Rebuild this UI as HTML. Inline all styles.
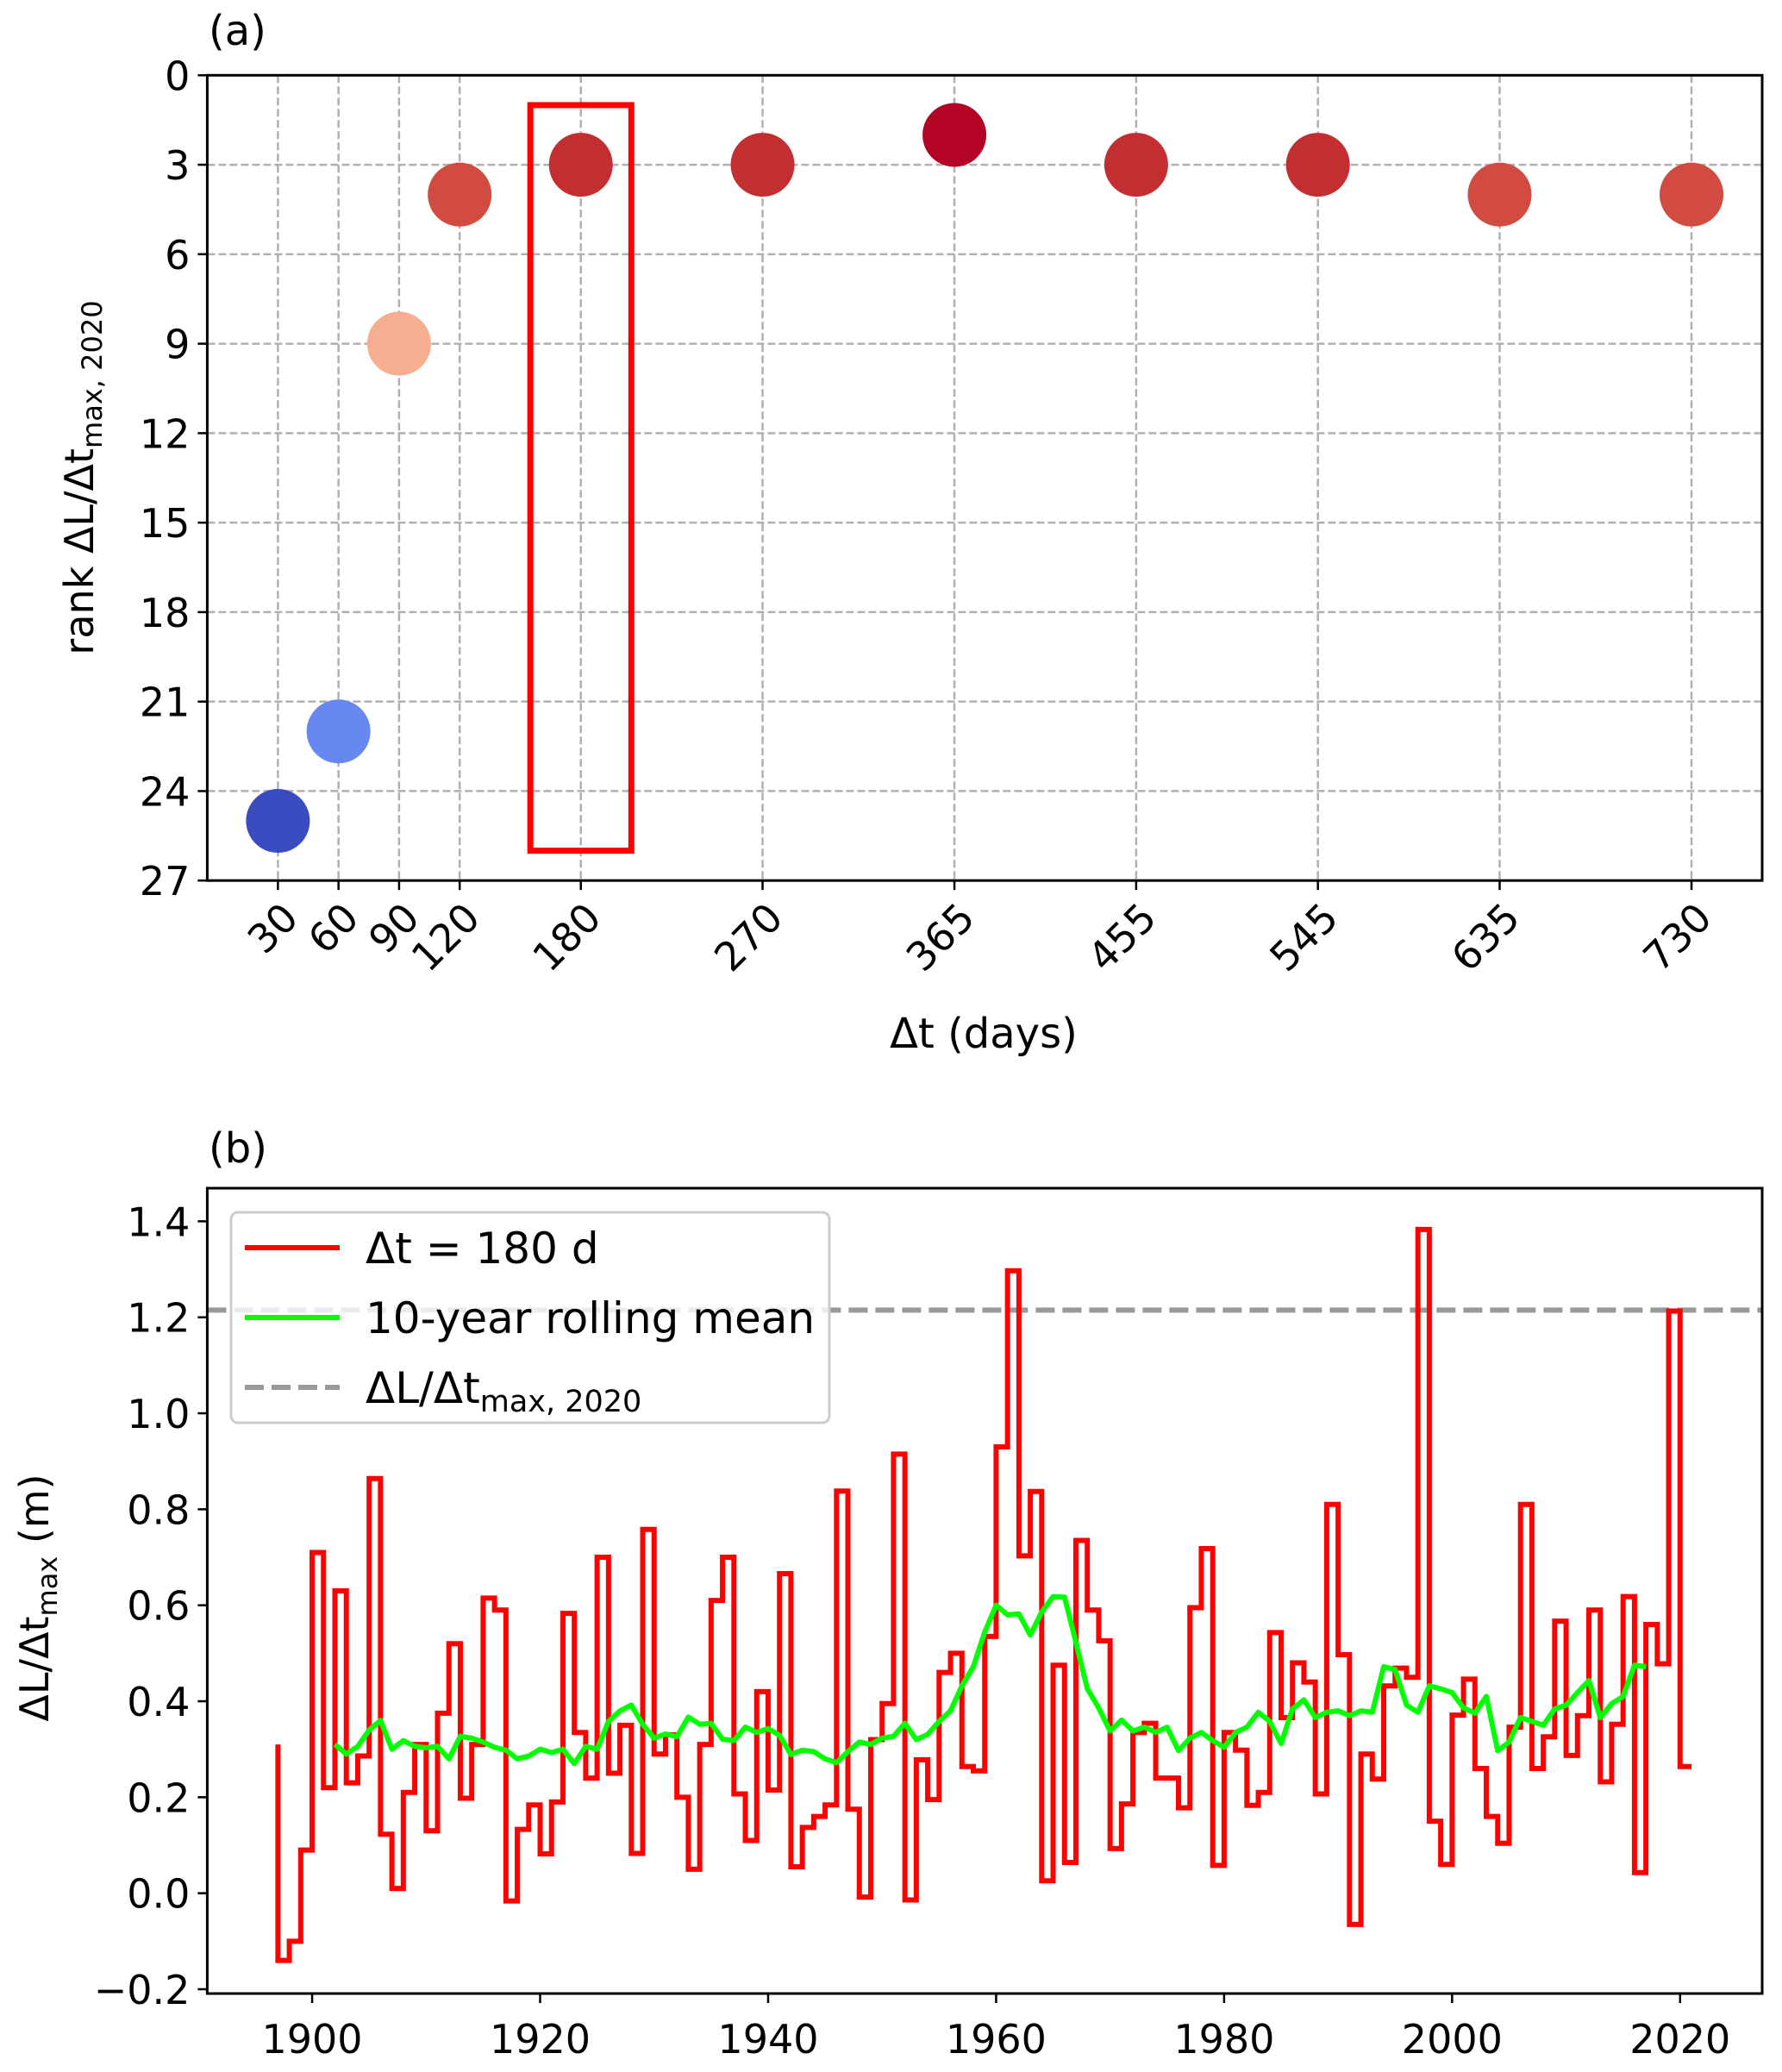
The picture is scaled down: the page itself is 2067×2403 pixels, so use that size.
<!DOCTYPE html>
<html><head><meta charset="utf-8"><style>
body{margin:0;background:#fff}
svg{display:block;font-family:"DejaVu Sans","Liberation Sans",sans-serif}
</style></head><body>
<svg id="fig" width="2067" height="2403" viewBox="0 0 2067 2403" xmlns="http://www.w3.org/2000/svg">
<rect width="2067" height="2403" fill="#fff"/>
<g id="pa"></g>
<g id="pb"></g>
</svg>
<script>
// Panel (a) data
const aDays=[30,60,90,120,180,270,365,455,545,635,730];
const aRanks=[25,22,9,4,3,3,2,3,3,4,4];
const aYTicks=[0,3,6,9,12,15,18,21,24,27];
const aXTicks=["30","60","90","120","180","270","365","455","545","635","730"];
const aBox=[155,205,1,26];
// Panel (b) data
const bYearStart=1897;
const bValues=[0.31,-0.14,-0.10,0.09,0.71,0.22,0.63,0.23,0.286,0.864,0.123,0.01,0.21,0.31,0.13,0.375,0.52,0.198,0.31,0.615,0.59,-0.016,0.133,0.184,0.082,0.19,0.583,0.335,0.24,0.70,0.25,0.35,0.083,0.758,0.29,0.33,0.20,0.05,0.31,0.61,0.70,0.207,0.11,0.42,0.215,0.666,0.055,0.137,0.16,0.184,0.838,0.175,-0.008,0.32,0.395,0.915,-0.014,0.278,0.195,0.46,0.50,0.264,0.255,0.535,0.93,1.297,0.703,0.837,0.026,0.475,0.064,0.735,0.59,0.526,0.093,0.186,0.335,0.354,0.24,0.24,0.178,0.595,0.718,0.058,0.335,0.298,0.183,0.21,0.543,0.366,0.48,0.44,0.207,0.81,0.497,-0.065,0.29,0.238,0.432,0.469,0.45,1.383,0.15,0.06,0.371,0.446,0.26,0.16,0.104,0.346,0.81,0.26,0.326,0.567,0.287,0.37,0.59,0.232,0.352,0.618,0.043,0.56,0.478,1.213,0.264];
const rollStart=1902;
const rollValues=[0.31,0.29,0.306,0.34,0.36,0.30,0.318,0.306,0.303,0.306,0.28,0.327,0.323,0.315,0.304,0.298,0.28,0.286,0.30,0.293,0.30,0.27,0.306,0.30,0.358,0.38,0.392,0.352,0.323,0.332,0.326,0.367,0.352,0.354,0.321,0.318,0.346,0.335,0.343,0.329,0.289,0.298,0.295,0.28,0.272,0.295,0.315,0.31,0.323,0.327,0.354,0.32,0.331,0.358,0.38,0.432,0.472,0.544,0.60,0.58,0.582,0.538,0.586,0.618,0.617,0.523,0.426,0.386,0.338,0.361,0.338,0.346,0.335,0.346,0.297,0.323,0.335,0.318,0.304,0.335,0.346,0.377,0.358,0.312,0.384,0.403,0.366,0.377,0.38,0.37,0.38,0.377,0.472,0.466,0.392,0.377,0.432,0.426,0.418,0.386,0.375,0.41,0.297,0.315,0.366,0.358,0.35,0.384,0.392,0.418,0.443,0.366,0.395,0.41,0.475,0.472];
const bMax2020=1.215;
const bYTicks=[-0.2,0.0,0.2,0.4,0.6,0.8,1.0,1.2,1.4];
const bXTicks=[1900,1920,1940,1960,1980,2000,2020];

const NS="http://www.w3.org/2000/svg";
function mk(parent,tag,attrs,text){const e=document.createElementNS(NS,tag);for(const k in attrs)e.setAttribute(k,attrs[k]);if(text!==undefined)e.textContent=text;parent.appendChild(e);return e;}

const cmapStops=[[2,[180,4,38]],[3,[195,46,49]],[4,[210,75,64]],[9,[246,173,144]],[15,[200,210,235]],[22,[103,136,238]],[25,[59,76,192]]];
function rankColor(r){
  for(let i=0;i<cmapStops.length-1;i++){const a=cmapStops[i],b=cmapStops[i+1];if(r<=b[0]){const f=Math.max(0,(r-a[0])/(b[0]-a[0]));return 'rgb('+a[1].map((v,j)=>Math.round(v+(b[1][j]-v)*f)).join(',')+')';}}
  return 'rgb(59,76,192)';
}
const TF=46;

// ---------- Panel a ----------
const pa=document.getElementById('pa');
const A={l:240.4,r:2044,t:87.3,b:1021.2,x0:-5,x1:765,y0:0,y1:27};
const ax=d=>A.l+(d-A.x0)/(A.x1-A.x0)*(A.r-A.l);
const ay=r=>A.t+(r-A.y0)/(A.y1-A.y0)*(A.b-A.t);
aYTicks.forEach(v=>{
  const g=mk(pa,'line',{x1:A.l,x2:A.r,y1:ay(v),y2:ay(v),stroke:'#b0b0b0','stroke-width':2.5,'stroke-dasharray':'9,4'});
  
  const tk=mk(pa,'line',{x1:A.l-11,x2:A.l,y1:ay(v),y2:ay(v),stroke:'#000','stroke-width':2.5});
  
  const t=mk(pa,'text',{x:A.l-20,y:ay(v)+17,'text-anchor':'end','font-size':TF},String(v));
  
});
aDays.forEach((d,i)=>{
  const g=mk(pa,'line',{x1:ax(d),x2:ax(d),y1:A.t,y2:A.b,stroke:'#b0b0b0','stroke-width':2.5,'stroke-dasharray':'9,4'});
  
  const tk=mk(pa,'line',{x1:ax(d),x2:ax(d),y1:A.b,y2:A.b+11,stroke:'#000','stroke-width':2.5});
  
  const px=ax(d)+26,py=A.b+46;
  const t=mk(pa,'text',{x:px,y:py,'text-anchor':'end','font-size':TF,transform:'rotate(-45 '+px+' '+py+')'},aXTicks[i]);
  
});
aDays.forEach((d,i)=>{
  const c=mk(pa,'circle',{cx:ax(d),cy:ay(aRanks[i]),r:37,fill:rankColor(aRanks[i])});
  
});
const hb=mk(pa,'rect',{x:ax(aBox[0]),y:ay(aBox[2]),width:ax(aBox[1])-ax(aBox[0]),height:ay(aBox[3])-ay(aBox[2]),fill:'none',stroke:'#ff0000','stroke-width':7});

const fa=mk(pa,'rect',{x:A.l,y:A.t,width:A.r-A.l,height:A.b-A.t,fill:'none',stroke:'#000','stroke-width':3});

let t;
t=mk(pa,'text',{x:242,y:52,'font-size':48},'(a)');
t=mk(pa,'text',{x:1141,y:1215,'text-anchor':'middle','font-size':48},'Δt (days)');
t=mk(pa,'text',{x:108,y:554,'text-anchor':'middle','font-size':46,transform:'rotate(-90 108 554)'});

mk(t,'tspan',{},'rank ΔL/Δt');mk(t,'tspan',{'font-size':32,dy:10},'max, 2020');

// ---------- Panel b ----------
const pb=document.getElementById('pb');
const B={l:240.4,r:2044,t:1378,b:2312,x0:1890.8,x1:2027.2,y0:-0.209,y1:1.469};
const bx=x=>B.l+(x-B.x0)/(B.x1-B.x0)*(B.r-B.l);
const by=v=>B.b-(v-B.y0)/(B.y1-B.y0)*(B.b-B.t);
bYTicks.forEach(v=>{
  const tk=mk(pb,'line',{x1:B.l-11,x2:B.l,y1:by(v),y2:by(v),stroke:'#000','stroke-width':2.5});
  
  const tl=mk(pb,'text',{x:B.l-20,y:by(v)+17,'text-anchor':'end','font-size':TF},(v<0?'−':'')+Math.abs(v).toFixed(1));
  
});
bXTicks.forEach(v=>{
  const tk=mk(pb,'line',{x1:bx(v),x2:bx(v),y1:B.b,y2:B.b+11,stroke:'#000','stroke-width':2.5});
  
  const tl=mk(pb,'text',{x:bx(v),y:B.b+69,'text-anchor':'middle','font-size':TF},String(v));
  
});
const ml=mk(pb,'line',{x1:B.l,x2:B.r,y1:by(bMax2020),y2:by(bMax2020),stroke:'#999','stroke-width':6,'stroke-dasharray':'22,9'});

let d='M'+bx(bYearStart)+' '+by(bValues[0]);
for(let i=1;i<bValues.length;i++){const x=bx(bYearStart+i);d+=' V'+by(bValues[i])+' H'+x;}
const sp=mk(pb,'path',{d:d,fill:'none',stroke:'#ff0000','stroke-width':6,'stroke-linejoin':'miter'});

let d2='';
rollValues.forEach((v,i)=>{d2+=(i?' L':'M')+bx(rollStart+i)+' '+by(v);});
const rp=mk(pb,'path',{d:d2,fill:'none',stroke:'#00ff00','stroke-width':6,'stroke-linejoin':'round'});

const fb=mk(pb,'rect',{x:B.l,y:B.t,width:B.r-B.l,height:B.b-B.t,fill:'none',stroke:'#000','stroke-width':3});

const lg=mk(pb,'g',{});

mk(lg,'rect',{x:268,y:1406,width:694,height:244,rx:8,fill:'#fff','fill-opacity':0.8,stroke:'#ccc','stroke-width':3});
const ly=[1447,1528,1609];
const ln1=mk(lg,'line',{x1:284,x2:394,y1:ly[0],y2:ly[0],stroke:'#ff0000','stroke-width':6});

const ln2=mk(lg,'line',{x1:284,x2:394,y1:ly[1],y2:ly[1],stroke:'#00ff00','stroke-width':6});

const ln3=mk(lg,'line',{x1:284,x2:394,y1:ly[2],y2:ly[2],stroke:'#999','stroke-width':6,'stroke-dasharray':'22,9'});

t=mk(lg,'text',{x:424,y:ly[0]+18,'font-size':50},'Δt = 180 d');
t=mk(lg,'text',{x:424,y:ly[1]+18,'font-size':50},'10-year rolling mean');
t=mk(lg,'text',{x:424,y:ly[2]+18,'font-size':50});
mk(t,'tspan',{},'ΔL/Δt');mk(t,'tspan',{'font-size':35,dy:10},'max, 2020');
t=mk(pb,'text',{x:242,y:1348,'font-size':48},'(b)');
t=mk(pb,'text',{x:56,y:1853,'text-anchor':'middle','font-size':46,transform:'rotate(-90 56 1853)'});

mk(t,'tspan',{},'ΔL/Δt');mk(t,'tspan',{'font-size':32,dy:10},'max');mk(t,'tspan',{dy:-10},' (m)');
</script>
</body></html>
